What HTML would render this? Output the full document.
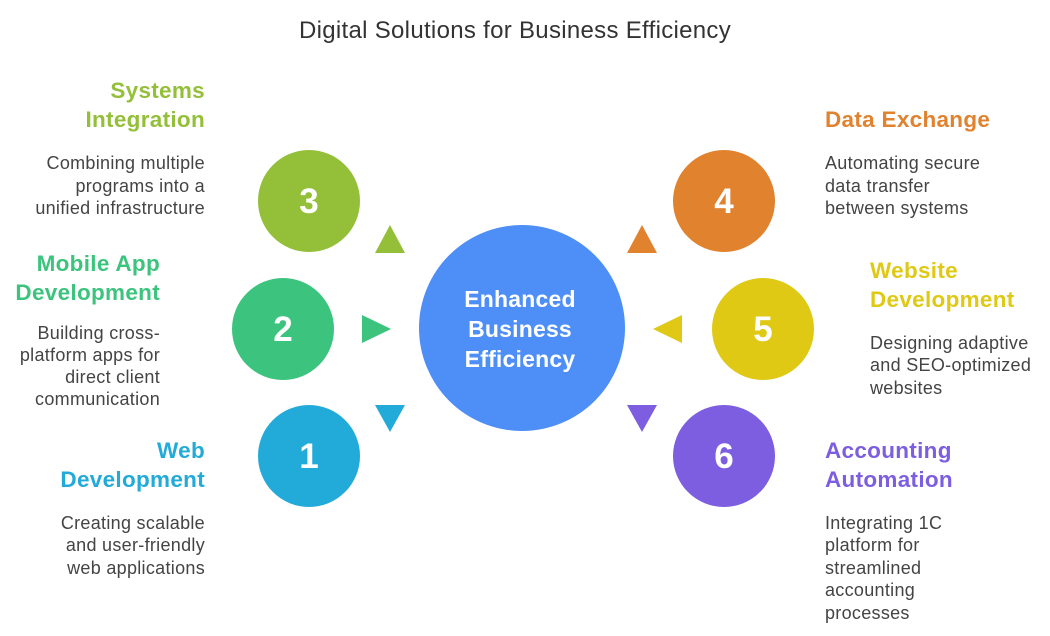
<!DOCTYPE html>
<html><head><meta charset="utf-8"><style>
html,body{margin:0;padding:0;background:#fff;}
svg{display:block;font-family:"Liberation Sans",Arial,sans-serif;}
.t{font-size:22.5px;font-weight:bold;letter-spacing:0.3px;}
.c{font-size:23px;font-weight:bold;letter-spacing:0.2px;}
.d{font-size:18px;fill:#444;letter-spacing:0.3px;}
.n{font-size:35px;font-weight:bold;fill:#fff;}
</style></head><body>
<svg width="1050" height="636" viewBox="0 0 1050 636" xmlns="http://www.w3.org/2000/svg">
<text x="515" y="38" text-anchor="middle" font-size="24" letter-spacing="0.3" fill="#333">Digital Solutions for Business Efficiency</text>

<circle cx="522" cy="328" r="103" fill="#4e8ef7"/>
<text x="520" y="307" text-anchor="middle" class="c" fill="#fff">Enhanced</text>
<text x="520" y="337" text-anchor="middle" class="c" fill="#fff">Business</text>
<text x="520" y="367" text-anchor="middle" class="c" fill="#fff">Efficiency</text>

<polygon points="390,225 405,253 375,253" fill="#94bf38"/>
<polygon points="362,315 391,329 362,343" fill="#3cc47e"/>
<polygon points="375,405 405,405 390,432" fill="#22aad8"/>
<polygon points="642,225 657,253 627,253" fill="#e0822e"/>
<polygon points="682,315 653,329 682,343" fill="#dfc914"/>
<polygon points="627,405 657,405 642,432" fill="#7d5ee0"/>

<circle cx="309" cy="201" r="51" fill="#94bf38"/><text x="309" y="213" text-anchor="middle" class="n">3</text>
<circle cx="283" cy="329" r="51" fill="#3cc47e"/><text x="283" y="341" text-anchor="middle" class="n">2</text>
<circle cx="309" cy="456" r="51" fill="#22aad8"/><text x="309" y="468" text-anchor="middle" class="n">1</text>
<circle cx="724" cy="201" r="51" fill="#e0822e"/><text x="724" y="213" text-anchor="middle" class="n">4</text>
<circle cx="763" cy="329" r="51" fill="#dfc914"/><text x="763" y="341" text-anchor="middle" class="n">5</text>
<circle cx="724" cy="456" r="51" fill="#7d5ee0"/><text x="724" y="468" text-anchor="middle" class="n">6</text>

<g text-anchor="end">
<text x="205" y="98" class="t" fill="#94bf38">Systems</text>
<text x="205" y="127" class="t" fill="#94bf38">Integration</text>
<text x="205" y="169" class="d">Combining multiple</text>
<text x="205" y="192" class="d">programs into a</text>
<text x="205" y="214" class="d">unified infrastructure</text>

<text x="160" y="271" class="t" fill="#3cc47e">Mobile App</text>
<text x="160" y="300" class="t" fill="#3cc47e">Development</text>
<text x="160" y="339" class="d">Building cross-</text>
<text x="160" y="361" class="d">platform apps for</text>
<text x="160" y="383" class="d">direct client</text>
<text x="160" y="405" class="d">communication</text>

<text x="205" y="458" class="t" fill="#22aad8">Web</text>
<text x="205" y="487" class="t" fill="#22aad8">Development</text>
<text x="205" y="529" class="d">Creating scalable</text>
<text x="205" y="551" class="d">and user-friendly</text>
<text x="205" y="574" class="d">web applications</text>
</g>

<g>
<text x="825" y="127" class="t" fill="#e0822e">Data Exchange</text>
<text x="825" y="169" class="d">Automating secure</text>
<text x="825" y="192" class="d">data transfer</text>
<text x="825" y="214" class="d">between systems</text>

<text x="870" y="278" class="t" fill="#dfc914">Website</text>
<text x="870" y="307" class="t" fill="#dfc914">Development</text>
<text x="870" y="349" class="d">Designing adaptive</text>
<text x="870" y="371" class="d">and SEO-optimized</text>
<text x="870" y="394" class="d">websites</text>

<text x="825" y="458" class="t" fill="#7d5ee0">Accounting</text>
<text x="825" y="487" class="t" fill="#7d5ee0">Automation</text>
<text x="825" y="529" class="d">Integrating 1C</text>
<text x="825" y="551" class="d">platform for</text>
<text x="825" y="574" class="d">streamlined</text>
<text x="825" y="596" class="d">accounting</text>
<text x="825" y="619" class="d">processes</text>
</g>
</svg>
</body></html>
